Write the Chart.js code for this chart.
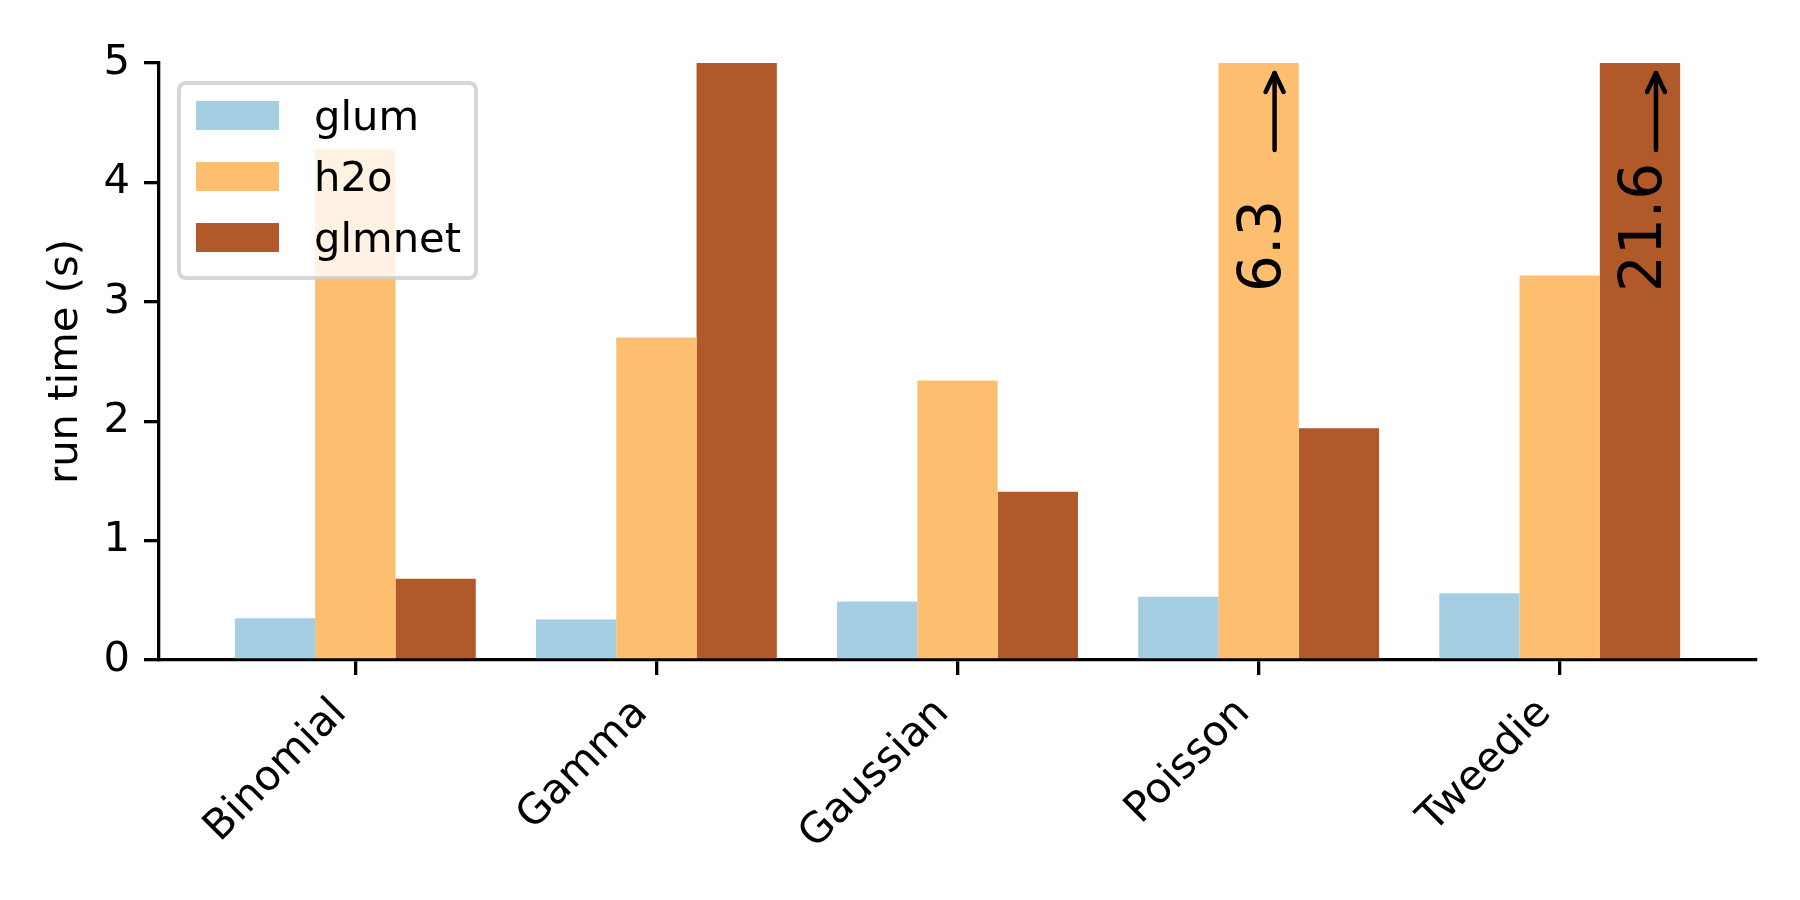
<!DOCTYPE html>
<html>
<head>
<meta charset="utf-8">
<script src="https://cdn.jsdelivr.net/npm/chart.js@4"></script>
<style>
body { margin: 0; background: #fff; }
</style>
</head>
<body>
<canvas id="runTimeChart" width="1800" height="900"></canvas>
<script>
const families = ['Binomial', 'Gamma', 'Gaussian', 'Poisson', 'Tweedie'];
const seriesNames = ['glum', 'h2o', 'glmnet'];
const glumTimes = [0.35, 0.34, 0.49, 0.53, 0.56];
const h2oTimes = [4.28, 2.70, 2.34, 6.3, 3.22];
const glmnetTimes = [0.68, 5.0, 1.41, 1.94, 21.6];
const yTicks = [0, 1, 2, 3, 4, 5];
const yMax = 5;

const colors = ['#a6cee3', '#fdbf6f', '#b15928'];
const font = { family: '"DejaVu Sans", sans-serif', size: 41.7 };

const toPoints = (vals) => vals.map((v, i) => ({ x: i, y: v }));

// values above the y limit get a rotated label and an arrow
const overflowLabels = {
	id: 'overflowLabels',
	afterDatasetsDraw(chart) {
		const ctx = chart.ctx;
		const top = chart.chartArea.top;
		chart.data.datasets.forEach((ds, d) => {
			const meta = chart.getDatasetMeta(d);
			ds.data.forEach((p, i) => {
				if (p.y <= yMax) return;
				const cx = meta.data[i].x;
				ctx.save();
				ctx.translate(cx + 21, top + 229);
				ctx.rotate(-Math.PI / 2);
				ctx.font = '58px "DejaVu Sans", sans-serif';
				ctx.fillStyle = '#000';
				ctx.textAlign = 'left';
				ctx.textBaseline = 'alphabetic';
				ctx.fillText(p.y.toFixed(1), 0, 0);
				ctx.restore();

				const ax = cx + 16, tail = top + 87, tip = top + 10;
				ctx.save();
				ctx.strokeStyle = '#000';
				ctx.lineWidth = 4.5;
				ctx.lineCap = 'round';
				ctx.lineJoin = 'round';
				ctx.beginPath();
				ctx.moveTo(ax, tail);
				ctx.lineTo(ax, tip);
				ctx.stroke();
				ctx.beginPath();
				ctx.moveTo(ax - 9, tip + 19);
				ctx.lineTo(ax, tip);
				ctx.lineTo(ax + 9, tip + 19);
				ctx.stroke();
				ctx.restore();
			});
		});
	}
};

// matplotlib-like legend in the upper left of the axes
const boxLegend = {
	id: 'boxLegend',
	afterDraw(chart) {
		const ctx = chart.ctx;
		const area = chart.chartArea;
		const lx = area.left + 20, ly = area.top + 20, lw = 297, lh = 195;
		ctx.save();
		ctx.beginPath();
		ctx.roundRect(lx, ly, lw, lh, 7);
		ctx.fillStyle = 'rgba(255,255,255,0.8)';
		ctx.fill();
		ctx.lineWidth = 4.2;
		ctx.strokeStyle = 'rgba(204,204,204,0.8)';
		ctx.stroke();
		ctx.font = '41.7px "DejaVu Sans", sans-serif';
		ctx.textAlign = 'left';
		ctx.textBaseline = 'alphabetic';
		chart.data.datasets.forEach((ds, i) => {
			const rowY = ly + 18 + i * 61;
			ctx.fillStyle = ds.backgroundColor;
			ctx.fillRect(lx + 17, rowY, 83, 29);
			ctx.fillStyle = '#000';
			ctx.fillText(ds.label, lx + 135, rowY + 29);
		});
		ctx.restore();
	}
};

const axisGrid = {
	display: true,
	drawOnChartArea: false,
	drawTicks: true,
	tickLength: 15,
	lineWidth: 3.3,
	tickWidth: 3.3,
	tickColor: '#000',
	color: '#000',
	offset: false,
};
const axisBorder = { display: true, color: '#000', width: 3.3 };

const runTimeData = {
	type: 'bar',
	data: {
		datasets: [
			{ label: seriesNames[0], data: toPoints(glumTimes), backgroundColor: colors[0] },
			{ label: seriesNames[1], data: toPoints(h2oTimes), backgroundColor: colors[1] },
			{ label: seriesNames[2], data: toPoints(glmnetTimes), backgroundColor: colors[2] },
		],
	},
	options: {
		responsive: false,
		animation: false,
		datasets: {
			bar: { barPercentage: 1, categoryPercentage: 0.8 },
		},
		layout: { padding: { top: 63, right: 44, left: 0, bottom: 0 } },
		plugins: {
			legend: { display: false },
			tooltip: { enabled: false },
		},
		scales: {
			x: {
				type: 'linear',
				min: -0.652,
				max: 4.652,
				offset: false,
				afterBuildTicks: (s) => { s.ticks = families.map((_, i) => ({ value: i })); },
				afterFit: (s) => { s.height = 240; },
				grid: axisGrid,
				border: axisBorder,
				ticks: {
					autoSkip: false,
					maxRotation: 45,
					minRotation: 45,
					padding: 14,
					labelOffset: -15,
					color: '#000',
					font: font,
					callback: (v) => families[v],
				},
			},
			y: {
				min: 0,
				max: yMax,
				afterBuildTicks: (s) => { s.ticks = yTicks.map((v) => ({ value: v })); },
				afterFit: (s) => { s.width = 159; },
				grid: axisGrid,
				border: axisBorder,
				ticks: { padding: 14, color: '#000', font: font },
				title: {
					display: true,
					text: 'run time (s)',
					color: '#000',
					font: font,
					padding: { top: 41, bottom: 0 },
				},
			},
		},
	},
	plugins: [overflowLabels, boxLegend],
};

(() => {
	new Chart(document.getElementById('runTimeChart'), runTimeData);
})();
</script>
</body>
</html>
